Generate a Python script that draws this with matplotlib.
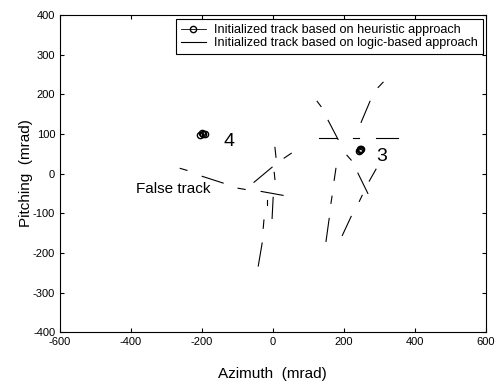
import matplotlib
matplotlib.use('Agg')
import matplotlib.pyplot as plt

plt.rcParams['font.family'] = ['Liberation Sans', 'DejaVu Sans']
plt.rcParams['axes.unicode_minus'] = False

# heuristic tracks (circles), azimuth / pitching in mrad
track4_az = [-205, -200, -196, -192]
track4_pitch = [98, 101, 100, 99]
track3_az = [243, 246, 249, 247]
track3_pitch = [58, 62, 63, 60]

# logic-based tracks: short segments (start, end)
seg_az = [
    (-261, -242), (-199, -140), (-98, -78), (-53, -2), (6, 9), (32, 52),
    (4, 6), (-33, 29), (1, -2), (-16, -16), (-25, -27), (-30, -41),
    (297, 311), (274, 249), (125, 136), (156, 184), (131, 181), (226, 243),
    (291, 353), (209, 221), (178, 173), (240, 268), (291, 272), (167, 164),
    (252, 244), (159, 150), (221, 196),
]
seg_pitch = [
    (13, 8), (-7, -24), (-37, -40), (-22, 16), (66, 41), (39, 51),
    (3, -15), (-45, -55), (-60, -113), (-67, -80), (-117, -138), (-175, -233),
    (217, 230), (182, 129), (182, 169), (134, 86), (89, 89), (89, 89),
    (89, 89), (46, 34), (13, -17), (1, -50), (11, -19), (-57, -75),
    (-55, -70), (-113, -171), (-108, -156),
]

fig = plt.figure(figsize=(4.96, 3.9), dpi=100)
ax = fig.add_axes([0.121, 0.148, 0.858, 0.814])

for i, (xs, ys) in enumerate(zip(seg_az, seg_pitch)):
    ax.plot(xs, ys, color='black', lw=0.8,
            label='Initialized track based on logic-based approach' if i == 0 else None)

ax.plot(track4_az, track4_pitch, 'o-', color='black', mfc='none', ms=4.5, lw=0.6,
        label='Initialized track based on heuristic approach')
ax.plot(track3_az, track3_pitch, 'o-', color='black', mfc='none', ms=4.5, lw=0.6)

ax.text(-140, 80, '4', fontsize=14, va='center')
ax.text(292, 42, '3', fontsize=14, va='center')
ax.text(-387, -38, 'False track', fontsize=11, va='center')

ax.set_xlim(-600, 600)
ax.set_ylim(-400, 400)
ax.set_xticks(range(-600, 601, 200))
ax.set_yticks(range(-400, 401, 100))
ax.tick_params(direction='in', labelsize=8, length=3, top=True, right=True,
               labeltop=False, labelright=False)
ax.set_xlabel('Azimuth  (mrad)', fontsize=11, labelpad=14)
ax.set_ylabel('Pitching  (mrad)', fontsize=11, labelpad=0)

handles, labels = ax.get_legend_handles_labels()
leg = ax.legend(handles[::-1], labels[::-1], loc='upper right', fontsize=9.1,
                fancybox=False, edgecolor='black', framealpha=1,
                borderpad=0.4, labelspacing=0.05, handlelength=2.0,
                handletextpad=0.65, bbox_to_anchor=(0.994, 0.986), borderaxespad=0)
leg.get_frame().set_linewidth(0.8)

fig.savefig('out.png', dpi=100)
